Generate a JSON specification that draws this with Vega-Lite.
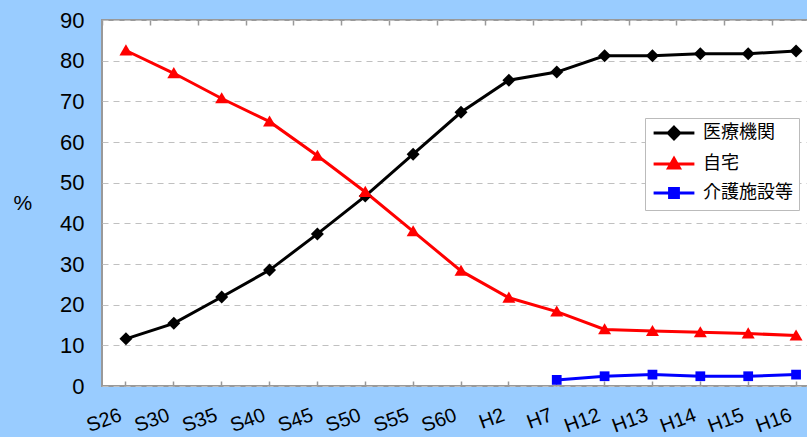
{
  "$schema": "https://vega.github.io/schema/vega-lite/v6.json",
  "width": 706,
  "height": 366,
  "autosize": "none",
  "padding": {"left": 102, "top": 20, "right": 0, "bottom": 51},
  "background": "#99CCFF",
  "config": {
    "view": {"fill": "white", "stroke": "#999999", "strokeWidth": 2},
    "font": "Liberation Sans"
  },
  "data": {
    "values": [
      {"year": "S26", "series": "医療機関", "value": 11.6},
      {"year": "S30", "series": "医療機関", "value": 15.4},
      {"year": "S35", "series": "医療機関", "value": 21.9},
      {"year": "S40", "series": "医療機関", "value": 28.5},
      {"year": "S45", "series": "医療機関", "value": 37.4},
      {"year": "S50", "series": "医療機関", "value": 46.7},
      {"year": "S55", "series": "医療機関", "value": 57.0},
      {"year": "S60", "series": "医療機関", "value": 67.3},
      {"year": "H2", "series": "医療機関", "value": 75.2},
      {"year": "H7", "series": "医療機関", "value": 77.2},
      {"year": "H12", "series": "医療機関", "value": 81.2},
      {"year": "H13", "series": "医療機関", "value": 81.2},
      {"year": "H14", "series": "医療機関", "value": 81.7},
      {"year": "H15", "series": "医療機関", "value": 81.7},
      {"year": "H16", "series": "医療機関", "value": 82.4},
      {"year": "S26", "series": "自宅", "value": 82.5},
      {"year": "S30", "series": "自宅", "value": 76.9},
      {"year": "S35", "series": "自宅", "value": 70.7},
      {"year": "S40", "series": "自宅", "value": 65.0},
      {"year": "S45", "series": "自宅", "value": 56.6},
      {"year": "S50", "series": "自宅", "value": 47.7},
      {"year": "S55", "series": "自宅", "value": 38.0},
      {"year": "S60", "series": "自宅", "value": 28.3},
      {"year": "H2", "series": "自宅", "value": 21.7},
      {"year": "H7", "series": "自宅", "value": 18.3},
      {"year": "H12", "series": "自宅", "value": 13.9},
      {"year": "H13", "series": "自宅", "value": 13.5},
      {"year": "H14", "series": "自宅", "value": 13.2},
      {"year": "H15", "series": "自宅", "value": 12.9},
      {"year": "H16", "series": "自宅", "value": 12.4},
      {"year": "H7", "series": "介護施設等", "value": 1.5},
      {"year": "H12", "series": "介護施設等", "value": 2.4},
      {"year": "H13", "series": "介護施設等", "value": 2.8},
      {"year": "H14", "series": "介護施設等", "value": 2.4},
      {"year": "H15", "series": "介護施設等", "value": 2.4},
      {"year": "H16", "series": "介護施設等", "value": 2.8}
    ]
  },
  "encoding": {
    "x": {
      "field": "year",
      "type": "ordinal",
      "sort": ["S26","S30","S35","S40","S45","S50","S55","S60","H2","H7","H12","H13","H14","H15","H16"],
      "scale": {"type": "band", "paddingInner": 0, "paddingOuter": 0, "range": [0, 718]}
    },
    "y": {
      "field": "value",
      "type": "quantitative",
      "scale": {"domain": [0, 90], "nice": false},
      "axis": {
        "values": [0, 10, 20, 30, 40, 50, 60, 70, 80, 90],
        "title": "%",
        "titleAngle": 0,
        "titleX": -89,
        "titleY": 183,
        "titleFontSize": 21,
        "titleFontWeight": "normal",
        "titleColor": "black",
        "titleAlign": "left",
        "titleBaseline": "middle",
        "domain": false,
        "ticks": false,
        "labelFontSize": 22,
        "labelColor": "black",
        "labelPadding": 18,
        "grid": true,
        "gridColor": "#C0C0C0",
        "gridDash": [6, 5],
        "gridWidth": 1.2
      }
    },
    "color": {
      "field": "series",
      "type": "nominal",
      "scale": {"domain": ["医療機関", "自宅", "介護施設等"], "range": ["#000000", "#FF0000", "#0000FF"]},
      "legend": {
        "title": null,
        "orient": "none",
        "legendX": 543,
        "legendY": 98,
        "fillColor": "white",
        "strokeColor": "#BBBBBB",
        "padding": 6,
        "labelFont": "Noto Sans CJK JP",
        "labelFontSize": 18,
        "labelColor": "black",
        "symbolSize": 185,
        "symbolOffset": 14,
        "labelOffset": 20,
        "rowPadding": 7,
        "encode": {
          "symbols": {
            "update": {
              "shape": {"signal": "datum.value === '医療機関' ? 'M-3,0H3M0,-0.85L0.85,0L0,0.85L-0.85,0Z' : datum.value === '自宅' ? 'M-3,0H3M0,-0.8L0.8,0.6L-0.8,0.6Z' : 'M-3,0H3M-0.65,-0.65H0.65V0.65H-0.65Z'"},
              "fill": {"scale": "color", "field": "value"},
              "stroke": {"scale": "color", "field": "value"},
              "strokeWidth": {"value": 3},
              "size": {"value": 185},
              "opacity": {"value": 1},
              "fillOpacity": {"value": 1},
              "strokeOpacity": {"value": 1}
            }
          }
        }
      }
    }
  },
  "layer": [
    {
      "mark": {"type": "line", "strokeWidth": 3},
      "encoding": {
        "x": {
          "field": "year",
          "type": "ordinal",
          "sort": ["S26","S30","S35","S40","S45","S50","S55","S60","H2","H7","H12","H13","H14","H15","H16"],
          "axis": {
            "title": null,
            "domain": false,
            "offset": -5,
            "tickColor": "#999999",
            "tickWidth": 1.5,
            "tickSize": 5,
            "labelAngle": -20,
            "labelAlign": "right",
            "labelBaseline": "middle",
            "labelPadding": 28,
            "labelOffset": -5,
            "labelFontSize": 20,
            "labelColor": "black"
          }
        }
      }
    },
    {
      "transform": [{"filter": "datum.series === '医療機関'"}],
      "mark": {"type": "point", "filled": true, "opacity": 1, "size": 169, "shape": "M0,-1L1,0L0,1L-1,0Z"},
      "encoding": {
        "x": {
          "field": "year",
          "type": "ordinal",
          "sort": ["S26","S30","S35","S40","S45","S50","S55","S60","H2","H7","H12","H13","H14","H15","H16"],
          "axis": {
            "title": null,
            "domain": false,
            "labels": false,
            "offset": -5,
            "tickBand": "extent",
            "tickColor": "#999999",
            "tickWidth": 1.5,
            "tickSize": 5
          }
        }
      }
    },
    {
      "transform": [{"filter": "datum.series === '自宅'"}],
      "mark": {"type": "point", "filled": true, "opacity": 1, "size": 169, "shape": "M0,-0.95L1,0.75L-1,0.75Z"},
      "encoding": {
        "x": {
          "field": "year",
          "type": "ordinal",
          "sort": ["S26","S30","S35","S40","S45","S50","S55","S60","H2","H7","H12","H13","H14","H15","H16"],
          "axis": null
        }
      }
    },
    {
      "transform": [{"filter": "datum.series === '介護施設等'"}],
      "mark": {"type": "point", "filled": true, "opacity": 1, "size": 169, "shape": "M-0.75,-0.75H0.75V0.75H-0.75Z"},
      "encoding": {
        "x": {
          "field": "year",
          "type": "ordinal",
          "sort": ["S26","S30","S35","S40","S45","S50","S55","S60","H2","H7","H12","H13","H14","H15","H16"],
          "axis": null
        }
      }
    }
  ],
  "resolve": {"axis": {"x": "independent"}}
}
